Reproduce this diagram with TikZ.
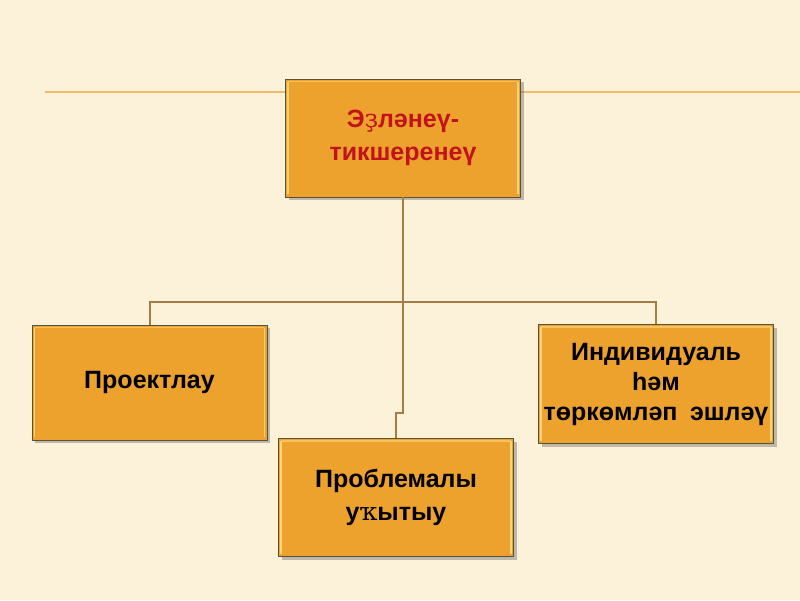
\documentclass[tikz,border=0pt]{standalone}
\usepackage{fontspec}
\setmainfont{Liberation Sans}
\newfontfamily\fbfont{DejaVu Serif}
\usetikzlibrary{shadows}
\definecolor{bgcol}{HTML}{FCF2DA}
\definecolor{boxfill}{HTML}{EEA22E}
\definecolor{boxedge}{HTML}{5A5040}
\definecolor{hilite}{HTML}{FFE28A}
\definecolor{topline}{HTML}{F0BC6A}
\definecolor{conncol}{HTML}{A47C45}
\definecolor{redtext}{HTML}{C0141A}
\newcommand{\fb}[1]{{\fbfont\mdseries #1}}
\tikzset{
  orangebox/.style={draw=boxedge, line width=0.8pt, fill=boxfill,
    minimum width=235pt, inner sep=2pt, align=center,
    font=\fontsize{25}{33}\selectfont\bfseries, text=black,
    drop shadow={shadow xshift=3pt, shadow yshift=-3pt, opacity=0.35, fill=black!70}},
  conn/.style={draw=conncol, line width=2pt},
  innerlite/.style={draw=hilite, line width=1.6pt, opacity=0.8}
}
\begin{document}
\begin{tikzpicture}[x=1pt,y=-1pt]
\fill[bgcol] (0,0) rectangle (800,600);
\useasboundingbox (0,0) rectangle (800,600);
% long horizontal line
\coordinate (hl) at (45,92);
\coordinate (hr) at (800,92);
\draw[topline, line width=2.5pt] (hl) -- (hr);
% boxes
\node[orangebox, minimum height=118pt, text=redtext] (top) at (403,138)
  {Э\fb{ҙ}ләнеү-\\тикшеренеү};
\node[orangebox, minimum height=115pt] (left) at (149.5,382.5) {Проектлау};
\node[orangebox, minimum height=118pt] (mid) at (396,497.5)
  {Проблемалы\\у\fb{ҡ}ытыу};
\node[orangebox, minimum height=119pt, font=\fontsize{25}{30}\selectfont\bfseries] (right) at (656,384)
  {Индивидуаль\\һәм\\төркөмләп\hspace{0.5em}эшләү};
% highlights
\foreach \n in {top,left,mid,right}{
  \draw[innerlite] ([shift={(3pt,-3pt)}]\n.north west) -- ([shift={(3pt,3pt)}]\n.south west);
  \draw[innerlite] ([shift={(-3pt,-3pt)}]\n.north east) -- ([shift={(-3pt,3pt)}]\n.south east);
  \draw[innerlite, opacity=0.5] ([shift={(3pt,-3pt)}]\n.north west) -- ([shift={(-3pt,-3pt)}]\n.north east);
}
% connectors
\draw[conn] (top.south) -- ++(0,216) -| (mid.north);
\draw[conn] (left.north) -- ++(0,-23) -| (right.north);
\end{tikzpicture}
\end{document}
